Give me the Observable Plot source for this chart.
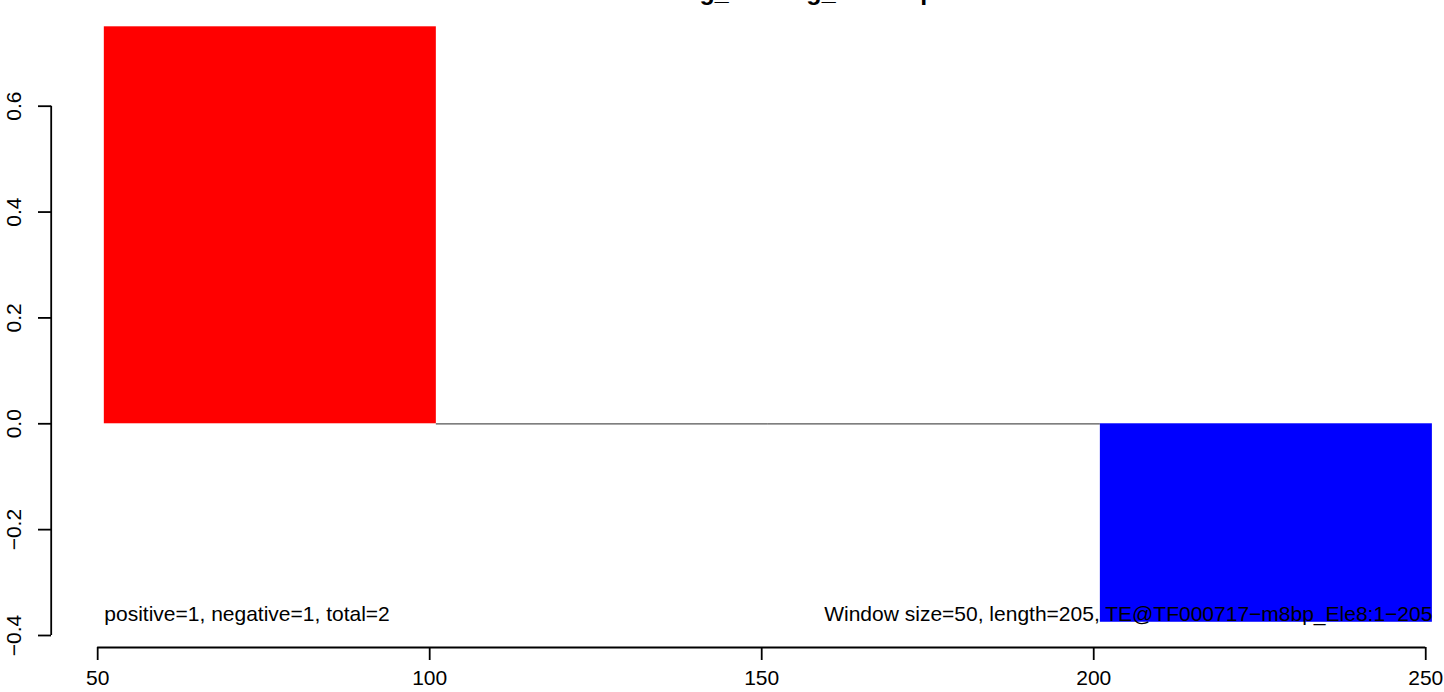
<!DOCTYPE html>
<html>
<head>
<meta charset="utf-8">
<script src="https://cdn.jsdelivr.net/npm/d3@7"></script>
<script src="https://cdn.jsdelivr.net/npm/@observablehq/plot@0.6"></script>
<style>
  html, body { margin: 0; padding: 0; background: #fff; }
  #wrap { position: relative; width: 1444px; height: 692px; overflow: hidden; }
  #title { position: absolute; top: -21px; left: 630px; font: bold 25px "Liberation Sans", Arial, sans-serif; line-height: 25px; white-space: nowrap; color: #000; }
</style>
</head>
<body>
<div id="wrap"><div id="title"></div></div>
<script>
// ---- data ----
const windowStart = [51, 101, 151, 201];
const windowValue = [0.75, 0, 0, -0.375];
const windowSize = 50;
const xTicks = [50, 100, 150, 200, 250];
const yTicks = [-0.4, -0.2, 0.0, 0.2, 0.4, 0.6];
const leftNote = "positive=1, negative=1, total=2";
const rightNote = "Window size=50, length=205, TE@TF000717\u2212m8bp_Ele8:1\u2212205";
const titleText = "Rolling_Binding_Scatterplot";
const posColor = "#ff0000";
const negColor = "#0000ff";

// ---- layout ----
const W = 1444, H = 692;
const xDomain = [43, 259], xRange = [50.7, 1485];
const yDomain = [-0.4, 0.6], yRange = [635, 105.7];
const frameBottom = 647;
const yPerPx = (yDomain[1] - yDomain[0]) / (yRange[0] - yRange[1]);
const yAxisLineY = yDomain[0] - (frameBottom - yRange[0]) * yPerPx;

document.getElementById("title").textContent = titleText;

const windows = windowStart.map((s, i) => ({start: s, end: s + windowSize, value: windowValue[i]}));
const noteY = d3.min(windowValue);
const leftX = d3.min(windows, d => d.start);
const rightX = d3.max(windows, d => d.end);
const fmt = d3.format(".1f");

const chart = Plot.plot({
  width: W, height: H,
  marginLeft: 51, marginRight: 0, marginTop: 0, marginBottom: H - frameBottom,
  style: {fontFamily: "'Liberation Sans', Arial, sans-serif", fontSize: "21px", background: "white", color: "black", overflow: "visible"},
  x: {domain: xDomain, range: xRange, axis: null, label: null},
  y: {domain: yDomain, range: yRange, axis: null, label: null},
  marks: [
    Plot.ruleY(windows.filter(d => d.value === 0), {x1: "start", x2: "end", y: "value", stroke: "#555", strokeWidth: 1.3}),
    Plot.rectY(windows.filter(d => d.value !== 0), {x1: "start", x2: "end", y1: 0, y2: "value", fill: d => d.value > 0 ? posColor : negColor, inset: 0}),
    Plot.text([leftNote], {x: () => leftX, y: () => noteY, text: d => d, textAnchor: "start", fontSize: 21, fill: "black", dy: -8}),
    Plot.text([rightNote], {x: () => rightX, y: () => noteY, text: d => d, textAnchor: "end", fontSize: 21, fill: "black", dy: -8}),
    // x axis
    Plot.ruleY([yAxisLineY], {x1: xTicks[0], x2: xTicks[xTicks.length - 1], stroke: "black", strokeWidth: 1.8}),
    Plot.axisX(xTicks, {anchor: "bottom", label: null, tickSize: 13, tickPadding: 10, fontSize: 21, stroke: "black", strokeWidth: 1.8, tickFormat: d => String(d)}),
    // y axis
    Plot.ruleX([xDomain[0]], {y1: yTicks[0], y2: yTicks[yTicks.length - 1], stroke: "black", strokeWidth: 1.8}),
    Plot.axisY(yTicks, {anchor: "left", label: null, tickSize: 13, stroke: "black", strokeWidth: 1.8, tickFormat: () => ""}),
    Plot.text(yTicks, {y: d => d, frameAnchor: "left", dx: -37, rotate: -90, text: d => fmt(d), fontSize: 21, textAnchor: "middle", lineAnchor: "middle", fill: "black"})
  ]
});
document.getElementById("wrap").appendChild(chart);
</script>
</body>
</html>
